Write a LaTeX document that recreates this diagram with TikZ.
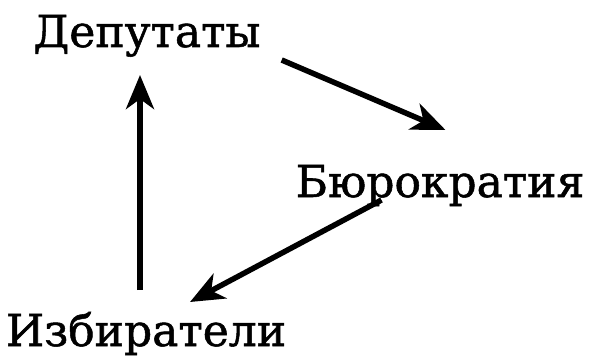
\documentclass[tikz,border=0pt]{standalone}
\usepackage{fontspec}
\setmainfont{DejaVu Serif}[AutoFakeBold=1.2]
\usetikzlibrary{arrows.meta}
\tikzset{word/.style = {anchor=base, inner sep=0, font=\fontsize{44}{50}\selectfont\bfseries}}
\tikzset{arr/.style = {line width=5.5pt, -{Stealth[length=34pt, width=28pt, inset=10pt]}}}

\begin{document}
\begin{tikzpicture}[x=1pt, y=-1pt]
      \useasboundingbox (0,0) rectangle (596,358);
      \node[word] (dep) at (147,47) {Депутаты};
      \node[word] (bur) at (440,197) {Бюрократия};
      \node[word] (izb) at (146,346) {Избиратели};
      \draw[arr] ([shift={(21,13)}]dep.base east) -- ([shift={(150,-67)}]bur.base west);
      \draw[arr] ([shift={(86,3)}]bur.base west) -- ([shift={(44,-44)}]izb.base);
      \draw[arr] ([shift={(-6,-56)}]izb.base) -- ([shift={(-7,28)}]dep.base);
    \end{tikzpicture}
\end{document}
